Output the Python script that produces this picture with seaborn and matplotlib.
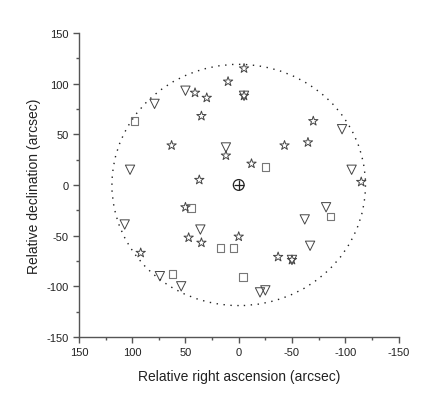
import matplotlib
matplotlib.use('Agg')
import matplotlib.pyplot as plt
from matplotlib.patches import Circle
from matplotlib.ticker import MultipleLocator
import pandas as pd
import seaborn as sns

# --- data ---
star_ra = [41, 30, 10, -5, -5, 35, 63, 12, -12, 37, -70, -43, -65, -115,
           50, 47, 35, 0, 92, -37, -50]
star_dec = [91, 86, 102, 115, 88, 68, 39, 29, 21, 5, 63, 39, 42, 3,
            -22, -52, -57, -51, -67, -71, -74]

tri_ra = [79, 50, 12, 102, -5, -97, -106, 107, 36, 74, 54, -82, -62, -67,
          -50, -20, -25]
tri_dec = [80, 93, 37, 15, 88, 55, 15, -39, -44, -90, -100, -22, -34, -60,
           -74, -106, -104]

sq_ra = [98, -25, 45, 17, 5, 62, -4, -86]
sq_dec = [63, 18, -23, -62, -62, -88, -91, -31]

center_ra = [0]
center_dec = [0]
field_radius = 119

stars = pd.DataFrame({'ra': star_ra, 'dec': star_dec})
tris = pd.DataFrame({'ra': tri_ra, 'dec': tri_dec})
squares = pd.DataFrame({'ra': sq_ra, 'dec': sq_dec})
center = pd.DataFrame({'ra': center_ra, 'dec': center_dec})

# --- style ---
sns.set_style('ticks')
plt.rcParams['font.family'] = ['Liberation Sans', 'DejaVu Sans']
plt.rcParams['axes.unicode_minus'] = False
ink = '#444444'

fig = plt.figure(figsize=(4.36, 4.14), dpi=100)
ax = fig.add_axes([0.181, 0.1836, 0.733, 0.7344])

sns.scatterplot(data=squares, x='ra', y='dec', marker='s', s=30, color='none',
                edgecolor='#777777', linewidth=0.8, ax=ax)
sns.scatterplot(data=tris, x='ra', y='dec', marker='v', s=45, color='none',
                edgecolor=ink, linewidth=0.7, ax=ax)
sns.scatterplot(data=stars, x='ra', y='dec', marker='*', s=50, color='none',
                edgecolor=ink, linewidth=0.7, ax=ax)
sns.scatterplot(data=center, x='ra', y='dec', marker='o', s=60, color='none',
                edgecolor='#222222', linewidth=0.9, ax=ax)
sns.scatterplot(data=center, x='ra', y='dec', marker='+', s=60, color='#222222',
                linewidth=0.9, ax=ax)

ax.add_patch(Circle((0, 0), field_radius, fill=False, edgecolor='#222222',
                    linewidth=1.0, linestyle=(0, (1, 4))))

ax.set_xlim(150, -150)
ax.set_ylim(-150, 150)
ax.xaxis.set_major_locator(MultipleLocator(50))
ax.yaxis.set_major_locator(MultipleLocator(50))
ax.xaxis.set_minor_locator(MultipleLocator(25))
ax.yaxis.set_minor_locator(MultipleLocator(25))

for s in ['top', 'right']:
    ax.spines[s].set_visible(False)
for s in ['left', 'bottom']:
    ax.spines[s].set_color('#555555')
    ax.spines[s].set_linewidth(1.0)

ax.tick_params(which='major', length=4, width=1.0, color='#555555',
               labelsize=8, labelcolor='#222222')
ax.tick_params(which='minor', length=2.5, width=1.0, color='#555555')

ax.set_xlabel('Relative right ascension (arcsec)', fontsize=10, color='#222222', labelpad=8)
ax.set_ylabel('Relative declination (arcsec)', fontsize=10, color='#222222', labelpad=4)

plt.savefig('out.png', dpi=100)
